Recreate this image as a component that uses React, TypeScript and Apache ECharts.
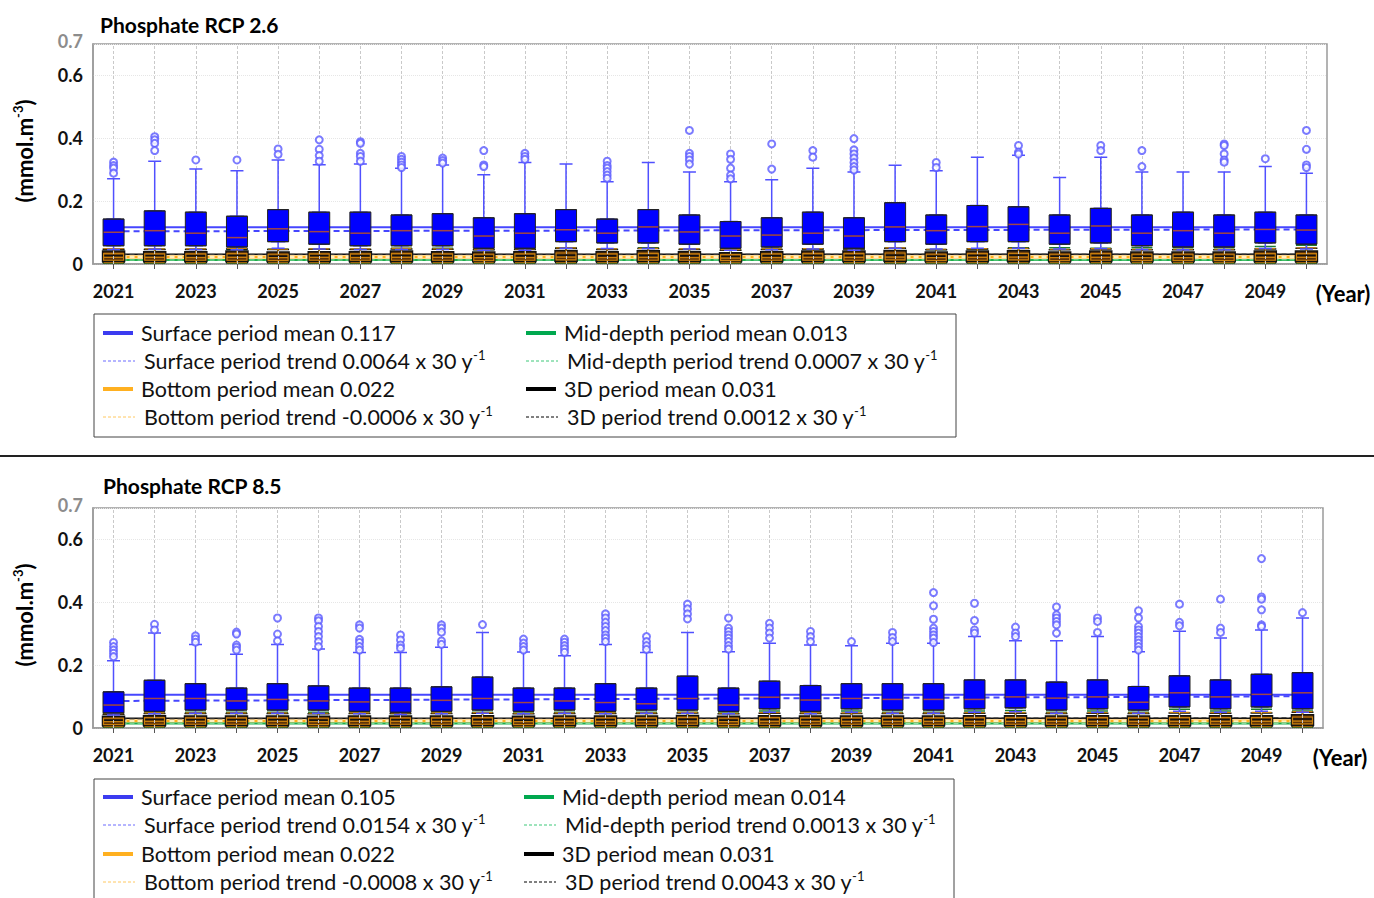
import React, { useEffect, useRef } from "react";
import * as echarts from "echarts";

const FONT = "Lato, 'Open Sans', 'DejaVu Sans', sans-serif";

const years = [
  "2021", "2022", "2023", "2024", "2025", "2026", "2027", "2028", "2029", "2030",
  "2031", "2032", "2033", "2034", "2035", "2036", "2037", "2038", "2039", "2040",
  "2041", "2042", "2043", "2044", "2045", "2046", "2047", "2048", "2049", "2050",
];

const yTicks = [0, 0.2, 0.4, 0.6, 0.7];

// ---------- RCP 2.6 : surface boxes ----------
const rcp26High = [0.271, 0.327, 0.302, 0.297, 0.331, 0.316, 0.318, 0.305, 0.315, 0.284, 0.323, 0.318, 0.262, 0.323, 0.293, 0.262, 0.268, 0.305, 0.293, 0.314, 0.297, 0.340, 0.346, 0.275, 0.340, 0.293, 0.293, 0.293, 0.310, 0.289];
const rcp26Q3 = [0.143, 0.169, 0.165, 0.152, 0.173, 0.165, 0.165, 0.156, 0.160, 0.147, 0.160, 0.173, 0.143, 0.173, 0.156, 0.135, 0.147, 0.165, 0.147, 0.195, 0.156, 0.186, 0.182, 0.156, 0.177, 0.156, 0.165, 0.156, 0.165, 0.156];
const rcp26Median = [0.101, 0.106, 0.098, 0.084, 0.112, 0.103, 0.098, 0.106, 0.106, 0.089, 0.098, 0.109, 0.098, 0.118, 0.102, 0.089, 0.092, 0.098, 0.089, 0.118, 0.106, 0.119, 0.126, 0.098, 0.121, 0.098, 0.106, 0.098, 0.110, 0.108];
const rcp26Q1 = [0.058, 0.058, 0.058, 0.054, 0.071, 0.063, 0.058, 0.058, 0.058, 0.050, 0.050, 0.071, 0.067, 0.067, 0.063, 0.050, 0.054, 0.063, 0.050, 0.071, 0.063, 0.071, 0.071, 0.063, 0.067, 0.058, 0.054, 0.054, 0.067, 0.063];
const rcp26Low = [0.046, 0.047, 0.046, 0.045, 0.050, 0.048, 0.046, 0.046, 0.046, 0.044, 0.044, 0.050, 0.049, 0.049, 0.048, 0.044, 0.045, 0.048, 0.044, 0.050, 0.048, 0.050, 0.050, 0.048, 0.049, 0.046, 0.045, 0.045, 0.049, 0.048];
const rcp26Outliers = [
  [0.324, 0.313, 0.305, 0.289], [0.405, 0.395, 0.384, 0.361], [0.331], [0.331], [0.366, 0.349],
  [0.395, 0.365, 0.345, 0.327], [0.389, 0.384, 0.352, 0.342, 0.327], [0.342, 0.333, 0.324, 0.315, 0.307], [0.337, 0.329, 0.321], [0.361, 0.315, 0.310],
  [0.352, 0.342, 0.333], [], [0.327, 0.313, 0.305, 0.294, 0.283, 0.273], [], [0.425, 0.352, 0.342, 0.331, 0.318],
  [0.350, 0.333, 0.305, 0.283, 0.271], [0.382, 0.302], [0.361, 0.340], [0.399, 0.363, 0.350, 0.337, 0.323, 0.310, 0.299], [],
  [0.323, 0.307], [], [0.377, 0.356, 0.350], [], [0.377, 0.361],
  [0.361, 0.310], [], [0.382, 0.377, 0.350, 0.331, 0.324], [0.335], [0.425, 0.365, 0.315, 0.307],
];
// [low, q1, median, q3, high]
const rcp26ThreeD = [
  [0.005, 0.008, 0.026, 0.041, 0.047], [0.005, 0.008, 0.027, 0.039, 0.046], [0.005, 0.008, 0.026, 0.039, 0.046], [0.005, 0.008, 0.027, 0.041, 0.048], [0.005, 0.008, 0.025, 0.038, 0.046],
  [0.005, 0.008, 0.026, 0.039, 0.047], [0.005, 0.008, 0.026, 0.039, 0.046], [0.005, 0.008, 0.027, 0.041, 0.048], [0.005, 0.008, 0.026, 0.039, 0.047], [0.005, 0.008, 0.025, 0.038, 0.045],
  [0.005, 0.008, 0.026, 0.039, 0.046], [0.005, 0.009, 0.028, 0.043, 0.050], [0.005, 0.008, 0.026, 0.039, 0.046], [0.005, 0.008, 0.027, 0.042, 0.049], [0.005, 0.008, 0.026, 0.039, 0.046],
  [0.005, 0.008, 0.024, 0.036, 0.044], [0.005, 0.008, 0.026, 0.039, 0.046], [0.005, 0.008, 0.027, 0.041, 0.048], [0.005, 0.008, 0.027, 0.041, 0.048], [0.005, 0.009, 0.028, 0.043, 0.050],
  [0.005, 0.008, 0.025, 0.038, 0.045], [0.005, 0.008, 0.027, 0.041, 0.048], [0.005, 0.009, 0.028, 0.042, 0.049], [0.005, 0.008, 0.025, 0.038, 0.045], [0.005, 0.008, 0.027, 0.041, 0.048],
  [0.005, 0.008, 0.025, 0.038, 0.045], [0.005, 0.008, 0.025, 0.038, 0.045], [0.005, 0.008, 0.025, 0.038, 0.045], [0.005, 0.008, 0.027, 0.041, 0.048], [0.005, 0.008, 0.027, 0.041, 0.050],
];
const rcp26Bottom = [
  [0.004, 0.012, 0.021, 0.033, 0.049], [0.004, 0.012, 0.021, 0.032, 0.048], [0.004, 0.012, 0.020, 0.032, 0.048], [0.004, 0.012, 0.021, 0.033, 0.050], [0.004, 0.011, 0.020, 0.031, 0.047],
  [0.004, 0.012, 0.021, 0.032, 0.048], [0.004, 0.012, 0.020, 0.032, 0.048], [0.004, 0.012, 0.021, 0.033, 0.050], [0.004, 0.012, 0.021, 0.032, 0.048], [0.004, 0.011, 0.020, 0.031, 0.047],
  [0.004, 0.012, 0.020, 0.032, 0.048], [0.004, 0.013, 0.022, 0.035, 0.051], [0.004, 0.012, 0.020, 0.032, 0.048], [0.004, 0.012, 0.021, 0.034, 0.050], [0.004, 0.012, 0.020, 0.032, 0.048],
  [0.004, 0.011, 0.019, 0.030, 0.046], [0.004, 0.012, 0.020, 0.032, 0.048], [0.004, 0.012, 0.021, 0.033, 0.049], [0.004, 0.012, 0.021, 0.033, 0.049], [0.004, 0.013, 0.022, 0.035, 0.051],
  [0.004, 0.011, 0.020, 0.031, 0.047], [0.004, 0.012, 0.021, 0.033, 0.049], [0.004, 0.013, 0.022, 0.034, 0.050], [0.004, 0.011, 0.020, 0.031, 0.047], [0.004, 0.012, 0.021, 0.033, 0.049],
  [0.004, 0.011, 0.020, 0.031, 0.047], [0.004, 0.011, 0.020, 0.031, 0.047], [0.004, 0.011, 0.020, 0.031, 0.047], [0.004, 0.012, 0.021, 0.033, 0.049], [0.004, 0.012, 0.021, 0.033, 0.051],
];
const rcp26Mid = [
  [0.002, 0.006, 0.011, 0.018, 0.046], [0.002, 0.006, 0.011, 0.018, 0.047], [0.002, 0.006, 0.011, 0.018, 0.047], [0.002, 0.006, 0.011, 0.018, 0.046], [0.002, 0.006, 0.011, 0.018, 0.047],
  [0.002, 0.006, 0.011, 0.018, 0.047], [0.002, 0.006, 0.011, 0.018, 0.047], [0.002, 0.006, 0.012, 0.019, 0.050], [0.002, 0.006, 0.011, 0.018, 0.050], [0.002, 0.006, 0.011, 0.018, 0.046],
  [0.002, 0.006, 0.011, 0.018, 0.048], [0.002, 0.006, 0.012, 0.019, 0.052], [0.002, 0.006, 0.011, 0.018, 0.047], [0.002, 0.006, 0.012, 0.019, 0.052], [0.002, 0.006, 0.011, 0.018, 0.047],
  [0.002, 0.006, 0.011, 0.018, 0.046], [0.002, 0.006, 0.011, 0.018, 0.047], [0.002, 0.006, 0.011, 0.018, 0.048], [0.002, 0.006, 0.011, 0.018, 0.048], [0.002, 0.006, 0.012, 0.019, 0.050],
  [0.002, 0.006, 0.011, 0.018, 0.046], [0.002, 0.006, 0.011, 0.018, 0.048], [0.002, 0.006, 0.012, 0.019, 0.052], [0.002, 0.006, 0.011, 0.018, 0.052], [0.002, 0.006, 0.011, 0.018, 0.050],
  [0.002, 0.006, 0.011, 0.018, 0.052], [0.002, 0.006, 0.011, 0.018, 0.052], [0.002, 0.006, 0.011, 0.018, 0.052], [0.002, 0.006, 0.012, 0.019, 0.056], [0.002, 0.006, 0.012, 0.019, 0.060],
];
// [start, end] of the horizontal reference lines
const rcp26SurfaceMean = [0.117, 0.117];
const rcp26SurfaceTrend = [0.104, 0.110];
const rcp26BottomMean = [0.022, 0.022];
const rcp26BottomTrend = [0.0226, 0.0220];
const rcp26MidMean = [0.013, 0.013];
const rcp26MidTrend = [0.0127, 0.0134];
const rcp26ThreeDMean = [0.031, 0.031];
const rcp26ThreeDTrend = [0.0304, 0.0316];
const rcp26Legend = [
  ["Surface period mean 0.117", ""],
  ["Surface period trend 0.0064 x 30 y", "-1"],
  ["Bottom period mean 0.022", ""],
  ["Bottom period trend -0.0006 x 30 y", "-1"],
  ["Mid-depth period mean 0.013", ""],
  ["Mid-depth period trend 0.0007 x 30 y", "-1"],
  ["3D period mean 0.031", ""],
  ["3D period trend 0.0012 x 30 y", "-1"],
];

// ---------- RCP 8.5 : surface boxes ----------
const rcp85High = [0.214, 0.302, 0.266, 0.235, 0.266, 0.251, 0.240, 0.240, 0.257, 0.304, 0.242, 0.230, 0.266, 0.240, 0.304, 0.243, 0.270, 0.264, 0.262, 0.270, 0.270, 0.291, 0.278, 0.278, 0.291, 0.243, 0.308, 0.286, 0.312, 0.350];
const rcp85Q3 = [0.115, 0.152, 0.141, 0.127, 0.141, 0.134, 0.127, 0.127, 0.131, 0.162, 0.127, 0.127, 0.141, 0.127, 0.165, 0.127, 0.149, 0.135, 0.141, 0.141, 0.141, 0.153, 0.153, 0.146, 0.153, 0.132, 0.166, 0.153, 0.171, 0.176];
const rcp85Median = [0.073, 0.094, 0.094, 0.086, 0.091, 0.086, 0.083, 0.083, 0.088, 0.094, 0.081, 0.086, 0.081, 0.077, 0.094, 0.073, 0.098, 0.089, 0.094, 0.091, 0.091, 0.091, 0.099, 0.095, 0.099, 0.082, 0.112, 0.099, 0.107, 0.112];
const rcp85Q1 = [0.048, 0.053, 0.057, 0.057, 0.057, 0.057, 0.053, 0.050, 0.053, 0.057, 0.053, 0.057, 0.053, 0.057, 0.057, 0.053, 0.061, 0.053, 0.061, 0.057, 0.057, 0.061, 0.064, 0.057, 0.061, 0.057, 0.067, 0.061, 0.067, 0.061];
const rcp85Low = [0.041, 0.045, 0.047, 0.047, 0.047, 0.047, 0.045, 0.043, 0.045, 0.047, 0.045, 0.047, 0.045, 0.047, 0.047, 0.045, 0.050, 0.045, 0.050, 0.047, 0.047, 0.050, 0.052, 0.047, 0.050, 0.047, 0.053, 0.050, 0.053, 0.050];
const rcp85Outliers = [
  [0.272, 0.259, 0.248, 0.238, 0.227], [0.330, 0.312], [0.293, 0.283, 0.273], [0.305, 0.299, 0.264, 0.257, 0.248], [0.350, 0.299, 0.277],
  [0.350, 0.341, 0.323, 0.307, 0.291, 0.275, 0.259], [0.328, 0.318, 0.282, 0.272, 0.259, 0.248], [0.296, 0.280, 0.264, 0.254], [0.328, 0.318, 0.305, 0.277, 0.266], [0.329],
  [0.283, 0.270, 0.259, 0.248], [0.283, 0.273, 0.262, 0.252, 0.241], [0.363, 0.350, 0.336, 0.323, 0.310, 0.296, 0.286, 0.275], [0.291, 0.275, 0.262, 0.250], [0.394, 0.379, 0.363, 0.347],
  [0.350, 0.318, 0.307, 0.296, 0.286, 0.275, 0.262, 0.251], [0.333, 0.318, 0.302, 0.286], [0.307, 0.291, 0.275], [0.275], [0.304, 0.288, 0.275],
  [0.431, 0.389, 0.346, 0.318, 0.307, 0.296, 0.286, 0.272], [0.397, 0.342, 0.312, 0.302], [0.321, 0.302, 0.291], [0.385, 0.360, 0.350, 0.339, 0.328, 0.302], [0.350, 0.339, 0.304],
  [0.373, 0.350, 0.323, 0.312, 0.302, 0.291, 0.280, 0.270, 0.259, 0.248], [0.394, 0.336, 0.325], [0.410, 0.318, 0.304], [0.539, 0.417, 0.410, 0.376, 0.328, 0.323], [0.367],
];
const rcp85ThreeD = [
  [0.005, 0.008, 0.025, 0.037, 0.044], [0.005, 0.008, 0.027, 0.039, 0.046], [0.005, 0.008, 0.026, 0.038, 0.046], [0.005, 0.008, 0.026, 0.038, 0.046], [0.005, 0.008, 0.026, 0.038, 0.046],
  [0.005, 0.008, 0.025, 0.037, 0.045], [0.005, 0.008, 0.026, 0.038, 0.046], [0.005, 0.008, 0.026, 0.038, 0.046], [0.005, 0.008, 0.026, 0.038, 0.046], [0.005, 0.008, 0.026, 0.039, 0.047],
  [0.005, 0.008, 0.025, 0.037, 0.045], [0.005, 0.008, 0.026, 0.038, 0.046], [0.005, 0.008, 0.026, 0.038, 0.046], [0.005, 0.008, 0.026, 0.038, 0.046], [0.005, 0.008, 0.027, 0.040, 0.048],
  [0.005, 0.008, 0.025, 0.037, 0.045], [0.005, 0.008, 0.027, 0.039, 0.047], [0.005, 0.008, 0.026, 0.038, 0.046], [0.005, 0.008, 0.026, 0.038, 0.046], [0.005, 0.008, 0.026, 0.038, 0.046],
  [0.005, 0.008, 0.026, 0.038, 0.046], [0.005, 0.008, 0.026, 0.039, 0.047], [0.005, 0.008, 0.026, 0.039, 0.047], [0.005, 0.008, 0.026, 0.038, 0.046], [0.005, 0.008, 0.026, 0.039, 0.047],
  [0.005, 0.008, 0.026, 0.038, 0.046], [0.005, 0.008, 0.027, 0.039, 0.048], [0.005, 0.008, 0.027, 0.039, 0.047], [0.005, 0.008, 0.027, 0.039, 0.048], [0.005, 0.009, 0.029, 0.042, 0.050],
];
const rcp85Bottom = [
  [0.004, 0.011, 0.020, 0.031, 0.046], [0.004, 0.012, 0.021, 0.033, 0.048], [0.004, 0.012, 0.021, 0.032, 0.048], [0.004, 0.012, 0.021, 0.032, 0.048], [0.004, 0.012, 0.021, 0.032, 0.048],
  [0.004, 0.011, 0.020, 0.031, 0.047], [0.004, 0.012, 0.021, 0.032, 0.048], [0.004, 0.012, 0.021, 0.032, 0.048], [0.004, 0.012, 0.021, 0.032, 0.048], [0.004, 0.012, 0.021, 0.033, 0.049],
  [0.004, 0.011, 0.020, 0.031, 0.047], [0.004, 0.012, 0.021, 0.032, 0.048], [0.004, 0.012, 0.021, 0.032, 0.048], [0.004, 0.012, 0.021, 0.032, 0.048], [0.004, 0.012, 0.022, 0.034, 0.050],
  [0.004, 0.011, 0.020, 0.031, 0.047], [0.004, 0.012, 0.021, 0.033, 0.049], [0.004, 0.012, 0.021, 0.032, 0.048], [0.004, 0.012, 0.021, 0.032, 0.048], [0.004, 0.012, 0.021, 0.032, 0.048],
  [0.004, 0.012, 0.021, 0.032, 0.048], [0.004, 0.012, 0.021, 0.033, 0.049], [0.004, 0.012, 0.021, 0.033, 0.049], [0.004, 0.012, 0.021, 0.032, 0.048], [0.004, 0.012, 0.021, 0.033, 0.049],
  [0.004, 0.012, 0.021, 0.032, 0.048], [0.004, 0.012, 0.021, 0.033, 0.050], [0.004, 0.012, 0.021, 0.033, 0.049], [0.004, 0.012, 0.021, 0.033, 0.050], [0.004, 0.013, 0.022, 0.035, 0.052],
];
const rcp85Mid = [
  [0.002, 0.006, 0.012, 0.019, 0.045], [0.002, 0.006, 0.012, 0.019, 0.048], [0.002, 0.006, 0.012, 0.019, 0.050], [0.002, 0.006, 0.012, 0.019, 0.050], [0.002, 0.006, 0.012, 0.019, 0.050],
  [0.002, 0.006, 0.012, 0.019, 0.050], [0.002, 0.006, 0.012, 0.019, 0.048], [0.002, 0.006, 0.012, 0.019, 0.046], [0.002, 0.006, 0.012, 0.019, 0.048], [0.002, 0.006, 0.012, 0.019, 0.050],
  [0.002, 0.006, 0.012, 0.019, 0.048], [0.002, 0.006, 0.012, 0.019, 0.050], [0.002, 0.006, 0.012, 0.019, 0.048], [0.002, 0.006, 0.012, 0.019, 0.050], [0.002, 0.006, 0.012, 0.019, 0.050],
  [0.002, 0.006, 0.012, 0.019, 0.048], [0.002, 0.006, 0.012, 0.019, 0.054], [0.002, 0.006, 0.012, 0.019, 0.048], [0.002, 0.006, 0.012, 0.019, 0.054], [0.002, 0.006, 0.012, 0.019, 0.050],
  [0.002, 0.006, 0.012, 0.019, 0.050], [0.002, 0.006, 0.012, 0.019, 0.054], [0.002, 0.006, 0.012, 0.019, 0.056], [0.002, 0.006, 0.012, 0.019, 0.050], [0.002, 0.006, 0.012, 0.019, 0.054],
  [0.002, 0.006, 0.012, 0.019, 0.050], [0.002, 0.006, 0.013, 0.020, 0.060], [0.002, 0.006, 0.012, 0.019, 0.054], [0.002, 0.006, 0.013, 0.020, 0.060], [0.002, 0.006, 0.013, 0.020, 0.054],
];
const rcp85SurfaceMean = [0.106, 0.106];
const rcp85SurfaceTrend = [0.086, 0.101];
const rcp85BottomMean = [0.022, 0.022];
const rcp85BottomTrend = [0.0226, 0.0218];
const rcp85MidMean = [0.014, 0.014];
const rcp85MidTrend = [0.0134, 0.0147];
const rcp85ThreeDMean = [0.031, 0.031];
const rcp85ThreeDTrend = [0.0289, 0.0332];
const rcp85Legend = [
  ["Surface period mean 0.105", ""],
  ["Surface period trend 0.0154 x 30 y", "-1"],
  ["Bottom period mean 0.022", ""],
  ["Bottom period trend -0.0008 x 30 y", "-1"],
  ["Mid-depth period mean 0.014", ""],
  ["Mid-depth period trend 0.0013 x 30 y", "-1"],
  ["3D period mean 0.031", ""],
  ["3D period trend 0.0043 x 30 y", "-1"],
];

const scenarios = [
  {
    title: "Phosphate RCP 2.6",
    high: rcp26High, q3: rcp26Q3, median: rcp26Median, q1: rcp26Q1, low: rcp26Low, outliers: rcp26Outliers,
    threeD: rcp26ThreeD, bottom: rcp26Bottom, mid: rcp26Mid,
    lines: [rcp26SurfaceMean, rcp26SurfaceTrend, rcp26BottomMean, rcp26BottomTrend, rcp26MidMean, rcp26MidTrend, rcp26ThreeDMean, rcp26ThreeDTrend],
    legend: rcp26Legend,
  },
  {
    title: "Phosphate RCP 8.5",
    high: rcp85High, q3: rcp85Q3, median: rcp85Median, q1: rcp85Q1, low: rcp85Low, outliers: rcp85Outliers,
    threeD: rcp85ThreeD, bottom: rcp85Bottom, mid: rcp85Mid,
    lines: [rcp85SurfaceMean, rcp85SurfaceTrend, rcp85BottomMean, rcp85BottomTrend, rcp85MidMean, rcp85MidTrend, rcp85ThreeDMean, rcp85ThreeDTrend],
    legend: rcp85Legend,
  },
];

// layout (pixels)
const layouts = [
  { gridTop: 44, gridRight: 47, titleX: 100, titleY: 24, yNameY: 151, yearX: 1343, yearY: 293, legX: 94, legY: 314, legW: 862, legH: 123, rows: [333, 361, 389, 417], col2: 526 },
  { gridTop: 508, gridRight: 51, titleX: 103, titleY: 485, yNameY: 615, yearX: 1340, yearY: 757, legX: 94, legY: 779, legW: 860, legH: 130, rows: [797, 825, 854, 882], col2: 524 },
];

const lineStyles = [
  { color: "#4646ff", width: 2, type: "solid" },
  { color: "#4646ff", width: 2, type: [6, 4] },
  { color: "#ffb020", width: 3, type: "solid" },
  { color: "#fff1c0", width: 2, type: [5, 3] },
  { color: "#1fae4b", width: 2, type: "solid" },
  { color: "#8de0a8", width: 1, type: [5, 3] },
  { color: "#111111", width: 1.5, type: "solid" },
  { color: "#444444", width: 1, type: [5, 3] },
];

const legendStyles = [
  { color: "#3b3bf0", dashed: false },
  { color: "#6a6aff", dashed: true },
  { color: "#ffb020", dashed: false },
  { color: "#ffc860", dashed: true },
  { color: "#00a84f", dashed: false },
  { color: "#3cc878", dashed: true },
  { color: "#000000", dashed: false },
  { color: "#000000", dashed: true },
];

function buildOption() {
  const grid: any[] = [];
  const xAxis: any[] = [];
  const yAxis: any[] = [];
  const series: any[] = [];
  const graphic: any[] = [];

  scenarios.forEach((s, g) => {
    const L = layouts[g];
    const base = g * 6;
    grid.push({ left: 93, top: L.gridTop, right: L.gridRight, height: 220, show: true, borderColor: "#9a9a9a", borderWidth: 1.5, backgroundColor: "transparent", outerBoundsMode: "none" });
    xAxis.push({
      type: "category", data: years, gridIndex: g, boundaryGap: true,
      axisLine: { show: true, lineStyle: { color: "#9a9a9a", width: 1.5 } },
      axisTick: { show: true, alignWithLabel: true, interval: 0, length: 5, lineStyle: { color: "#555" } },
      axisLabel: { interval: 1, margin: 18, fontFamily: FONT, fontWeight: "bold", fontSize: 18, color: "#111" },
      splitLine: { show: false },
    });
    for (let k = 1; k < 6; k++) {
      xAxis.push({ type: "category", data: years, gridIndex: g, show: false, boundaryGap: true });
    }
    yAxis.push({
      type: "value", gridIndex: g, min: 0, max: 0.7, interval: 0.2,
      axisLine: { show: true, lineStyle: { color: "#9a9a9a", width: 1.5 } },
      axisTick: { show: false },
      axisLabel: {
        margin: 10, fontFamily: FONT, fontWeight: "bold", fontSize: 18, color: "#111",
        formatter: (v: number) => {
          const r = Math.round(v * 10) / 10;
          if (r === yTicks[4]) return "{g|0.7}";
          if (r === 0) return "0";
          return r.toFixed(1);
        },
        rich: { g: { color: "#8c8c8c", fontWeight: "bold", fontSize: 18, fontFamily: FONT, padding: [0, 0, 6, 0] } },
      },
      splitLine: { show: true, lineStyle: { color: "#e6e6e6", type: "dotted" } },
    });

    // vertical dashed grid lines at each year
    series.push({
      type: "line", xAxisIndex: base, yAxisIndex: g, data: [], z: 0, silent: true,
      markLine: {
        silent: true, symbol: ["none", "none"], label: { show: false },
        lineStyle: { color: "#c9c9c9", type: [3, 2], width: 1 },
        data: years.map((y) => ({ xAxis: y })),
        animation: false,
      },
    });

    // mean and trend lines
    s.lines.forEach((ln, i) => {
      series.push({
        type: "line", xAxisIndex: base, yAxisIndex: g, z: 1, silent: true,
        symbol: "none", showSymbol: false,
        lineStyle: lineStyles[i],
        data: [[0, ln[0]], [years.length - 1, ln[1]]],
      });
    });

    // lower layer boxes
    series.push({
      type: "boxplot", xAxisIndex: base + 3, yAxisIndex: g, z: 2, silent: true,
      boxWidth: [21, 21], data: s.mid,
      itemStyle: { color: "#2e9b48", borderColor: "#1d7a33", borderWidth: 1.5 },
    });
    series.push({
      type: "boxplot", xAxisIndex: base + 5, yAxisIndex: g, z: 3, silent: true,
      boxWidth: [22, 22], data: s.threeD,
      itemStyle: { color: "#5e3409", borderColor: "#111", borderWidth: 1.5 },
    });
    series.push({
      type: "boxplot", xAxisIndex: base + 4, yAxisIndex: g, z: 4, silent: true,
      boxWidth: [20, 20], data: s.bottom,
      itemStyle: { color: "rgba(0,0,0,0)", borderColor: "#c77e0c", borderWidth: 1.2 },
    });

    // surface whiskers
    series.push({
      type: "boxplot", xAxisIndex: base + 1, yAxisIndex: g, z: 5, silent: true,
      boxWidth: [13, 13],
      data: s.high.map((h, i) => [s.low[i], s.q1[i], s.median[i], s.q3[i], h]),
      itemStyle: { color: "#0000ff", borderColor: "#5050ff", borderWidth: 1.5 },
    });
    // surface boxes
    series.push({
      type: "boxplot", xAxisIndex: base + 2, yAxisIndex: g, z: 6, silent: true,
      boxWidth: [21, 21],
      data: s.q3.map((q, i) => [s.q1[i], s.q1[i], s.median[i], q, q]),
      itemStyle: { color: "#0000ff", borderColor: "#222", borderWidth: 1 },
    });
    // medians
    series.push({
      type: "scatter", xAxisIndex: base, yAxisIndex: g, z: 7, silent: true,
      symbol: "rect", symbolSize: [20, 1.5],
      itemStyle: { color: "#c0504d" },
      data: s.median.map((m, i) => [i, m]),
    });
    // outliers
    const outs: number[][] = [];
    s.outliers.forEach((arr, i) => arr.forEach((v) => outs.push([i, v])));
    series.push({
      type: "scatter", xAxisIndex: base, yAxisIndex: g, z: 7, silent: true,
      symbol: "emptyCircle", symbolSize: 7,
      itemStyle: { color: "#5a5aff", borderColor: "#5a5aff", borderWidth: 1.5 },
      data: outs,
    });

    // texts
    graphic.push({
      type: "text", x: L.titleX, y: L.titleY, silent: true,
      style: { text: s.title, fontFamily: FONT, fontWeight: "bold", fontSize: 21, fill: "#000", align: "left", verticalAlign: "middle" },
    });
    graphic.push({
      type: "text", x: 24, y: L.yNameY, rotation: Math.PI / 2, silent: true,
      style: {
        text: "{a|(mmol.m}{b|-3}{a|)}", align: "center", verticalAlign: "middle",
        rich: {
          a: { fontFamily: FONT, fontWeight: "bold", fontSize: 22, fill: "#000", lineHeight: 26 },
          b: { fontFamily: FONT, fontWeight: "bold", fontSize: 13, fill: "#000", verticalAlign: "top", lineHeight: 16 },
        },
      },
    });
    graphic.push({
      type: "text", x: L.yearX, y: L.yearY, silent: true,
      style: { text: "(Year)", fontFamily: FONT, fontWeight: "bold", fontSize: 22, fill: "#000", align: "center", verticalAlign: "middle" },
    });

    // legend box
    graphic.push({
      type: "rect", silent: true,
      shape: { x: L.legX, y: L.legY, width: L.legW, height: L.legH },
      style: { fill: "#fff", stroke: "#444", lineWidth: 1 },
    });
    s.legend.forEach((item, i) => {
      const col = i < 4 ? 0 : 1;
      const row = i % 4;
      const st = legendStyles[i];
      const x0 = col === 0 ? 103 : L.col2;
      const y = L.rows[row];
      graphic.push({
        type: "line", silent: true,
        shape: { x1: x0, y1: y, x2: x0 + (st.dashed ? 32 : 30), y2: y },
        style: { stroke: st.color, lineWidth: st.dashed ? 1 : 4, lineDash: st.dashed ? [3, 2] : null },
      });
      const tx = x0 + (st.dashed ? 41 : 38);
      const text = item[1] ? `{n|${item[0]}}{s|${item[1]}}` : `{n|${item[0]}}`;
      graphic.push({
        type: "text", x: tx, y, silent: true,
        style: {
          text, align: "left", verticalAlign: "middle",
          rich: {
            n: { fontFamily: FONT, fontSize: 21.5, fill: "#111", lineHeight: 26 },
            s: { fontFamily: FONT, fontSize: 13, fill: "#111", verticalAlign: "top", lineHeight: 15 },
          },
        },
      });
    });
  });

  graphic.push({
    type: "line", silent: true,
    shape: { x1: 0, y1: 456, x2: 1374, y2: 456 },
    style: { stroke: "#222", lineWidth: 2 },
  });

  return { animation: false, backgroundColor: "#fff", grid, xAxis, yAxis, series, graphic };
}

export default function App() {
  const ref = useRef<HTMLDivElement>(null);
  useEffect(() => {
    if (!ref.current) return;
    const chart = echarts.init(ref.current, null, { renderer: "svg" });
    chart.setOption(buildOption() as any);
    return () => chart.dispose();
  }, []);
  return <div ref={ref} style={{ position: "fixed", left: 0, top: 0, width: 1374, height: 898 }} />;
}
